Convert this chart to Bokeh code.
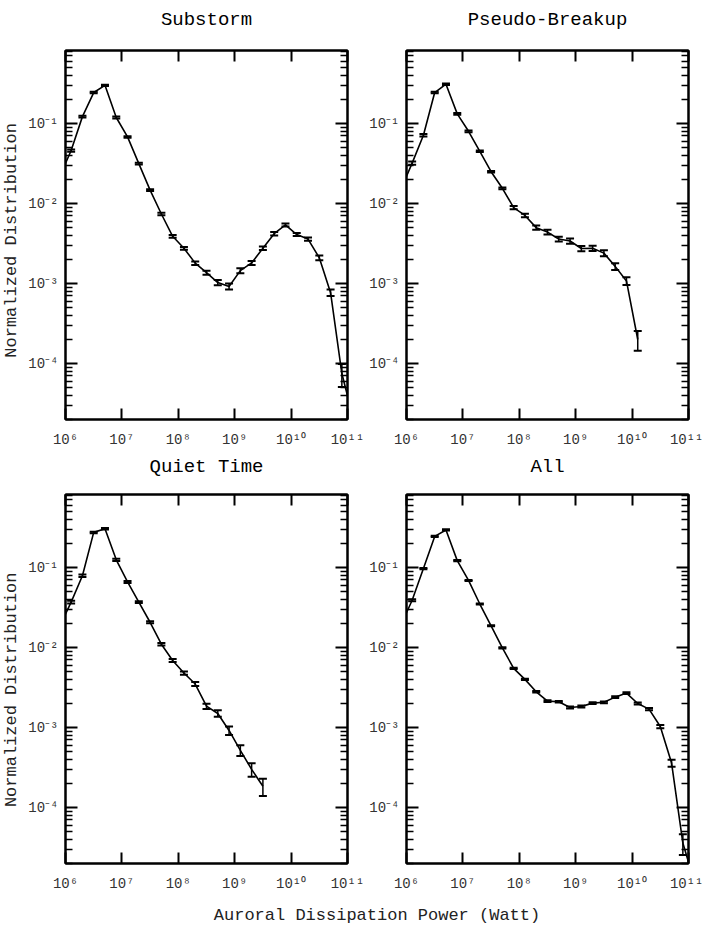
import math
from bokeh.plotting import figure
from bokeh.layouts import column, row
from bokeh.models import LogAxis, FixedTicker, CustomJSTickFormatter
from bokeh.core.properties import value
from bokeh.embed import file_html
from bokeh.resources import INLINE

FONT = "Liberation Mono"

# ---- axis definitions ----
x_ticks = [1e6, 1e7, 1e8, 1e9, 1e10, 1e11]
x_tick_labels = ["10⁶", "10⁷", "10⁸", "10⁹", "10¹⁰", "10¹¹"]
y_ticks = [1e-4, 1e-3, 1e-2, 1e-1]
y_tick_labels = ["10⁻⁴", "10⁻³", "10⁻²", "10⁻¹"]
x_limits = (1e6, 1e11)
y_limits = (2.0e-5, 0.818)

# ---- data: log10(power in Watt), normalized distribution, error ----
substorm_logp = [5.9, 6.1, 6.3, 6.5, 6.7, 6.9, 7.1, 7.3, 7.5, 7.7, 7.9, 8.1, 8.3, 8.5,
                 8.7, 8.9, 9.1, 9.3, 9.5, 9.7, 9.9, 10.1, 10.3, 10.5, 10.7, 10.9, 11.1]
substorm_dist = [0.022, 0.046, 0.122, 0.244, 0.30, 0.119, 0.068, 0.0316, 0.0147, 0.0074,
                 0.0039, 0.00276, 0.0018, 0.00137, 0.00103, 0.00092, 0.00145, 0.00181,
                 0.00276, 0.0042, 0.0054, 0.0041, 0.0036, 0.0021, 0.00077, 7.5e-5, 2.1e-5]
substorm_err = [0, 0.0015, 0.003, 0.005, 0.006, 0.003, 0.0015, 0.0008, 0.0004, 0.00025,
                0.00015, 0.00011, 0.00009, 0.00008, 0.00008, 0.00008, 0.0001, 0.0001,
                0.00014, 0.0002, 0.00022, 0.00018, 0.00017, 0.00015, 0.00007, 2.4e-5, 0]

pseudo_logp = [5.9, 6.1, 6.3, 6.5, 6.7, 6.9, 7.1, 7.3, 7.5, 7.7, 7.9, 8.1, 8.3, 8.5,
               8.7, 8.9, 9.1, 9.3, 9.5, 9.7, 9.9, 10.1]
pseudo_dist = [0.015, 0.032, 0.0715, 0.244, 0.31, 0.132, 0.080, 0.045, 0.025, 0.0155,
               0.0089, 0.0071, 0.0050, 0.0044, 0.0036, 0.0034, 0.00274, 0.00276, 0.0024,
               0.00164, 0.00108, 0.00020]
pseudo_err = [0, 0.0015, 0.0025, 0.005, 0.006, 0.003, 0.002, 0.001, 0.0006, 0.0004,
              0.0004, 0.00035, 0.0003, 0.0003, 0.00025, 0.00025, 0.0002, 0.0002, 0.0002,
              0.00016, 0.00012, 5.5e-5]

quiet_logp = [5.9, 6.1, 6.3, 6.5, 6.7, 6.9, 7.1, 7.3, 7.5, 7.7, 7.9, 8.1, 8.3, 8.5,
              8.7, 8.9, 9.1, 9.3, 9.5]
quiet_dist = [0.0186, 0.037, 0.079, 0.275, 0.305, 0.125, 0.066, 0.037, 0.0207, 0.011,
              0.0069, 0.0048, 0.0035, 0.00185, 0.0015, 0.00092, 0.00052, 0.00030, 0.000185]
quiet_err = [0, 0.0015, 0.003, 0.006, 0.007, 0.004, 0.002, 0.001, 0.0006, 0.0004,
             0.0003, 0.00022, 0.0002, 0.00014, 0.00014, 0.00011, 0.00008, 0.000058, 0.000045]

all_logp = [5.9, 6.1, 6.3, 6.5, 6.7, 6.9, 7.1, 7.3, 7.5, 7.7, 7.9, 8.1, 8.3, 8.5,
            8.7, 8.9, 9.1, 9.3, 9.5, 9.7, 9.9, 10.1, 10.3, 10.5, 10.7, 10.9, 11.1]
all_dist = [0.019, 0.039, 0.097, 0.245, 0.295, 0.122, 0.069, 0.035, 0.0187, 0.0099,
            0.0055, 0.0040, 0.0028, 0.00214, 0.0021, 0.00178, 0.00183, 0.00202, 0.00207,
            0.0024, 0.0027, 0.0020, 0.0017, 0.00103, 0.00036, 3.6e-5, 1.2e-5]
all_err = [0, 0.001, 0.002, 0.004, 0.005, 0.002, 0.001, 0.0006, 0.0003, 0.00015,
           0.0001, 0.00008, 0.00006, 0.00005, 0.00005, 0.00005, 0.00005, 0.00005, 0.00005,
           0.00006, 0.00007, 0.00006, 0.00006, 0.00005, 0.000037, 1.05e-5, 0]

titles = ["Substorm", "Pseudo-Breakup", "Quiet Time", "All"]
y_title = "Normalized Distribution"
x_title = "Auroral Dissipation Power (Watt)"

FMT_CODE = """
for (let i = 0; i < tv.length; i++) {
  if (Math.abs(Math.log10(tv[i]) - Math.log10(tick)) < 1e-6) { return tl[i]; }
}
return "";
"""

y_minor = [m * 10.0 ** k for k in range(-5, 0) for m in range(2, 10)]
y_minor = [t for t in y_minor if y_limits[0] <= t <= y_limits[1]]


def style_axis(ax, is_x, show_labels, labels_ticks):
    tv, tl = labels_ticks
    if is_x:
        ax.ticker = FixedTicker(ticks=tv)
        ax.minor_tick_line_color = None
        ax.major_tick_in = 11
    else:
        ax.ticker = FixedTicker(ticks=tv, minor_ticks=y_minor)
        ax.major_tick_in = 12
        ax.minor_tick_in = 7
        ax.minor_tick_out = 0
        ax.minor_tick_line_color = "black"
        ax.minor_tick_line_width = 1.5
    ax.major_tick_out = 0
    ax.major_tick_line_color = "black"
    ax.major_tick_line_width = 2
    ax.axis_line_color = "black"
    ax.axis_line_width = 2
    if show_labels:
        ax.formatter = CustomJSTickFormatter(args=dict(tv=tv, tl=tl), code=FMT_CODE)
        ax.major_label_text_font = FONT
        ax.major_label_text_font_size = "14px"
        ax.major_label_text_color = "#333333"
        ax.major_label_standoff = 12 if is_x else 7
    else:
        ax.formatter = CustomJSTickFormatter(code="return '';")
        ax.major_label_text_color = None
        ax.major_label_text_font_size = "1px"
        ax.major_label_standoff = 0


def blank(width, height):
    f = figure(width=width, height=height, x_range=(0, width), y_range=(0, height),
               title=None, output_backend="svg", toolbar_location=None, min_border=0,
               x_axis_location=None, y_axis_location=None,
               background_fill_color="white", border_fill_color="white")
    f.grid.grid_line_color = None
    f.outline_line_color = None
    return f


def title_fig(text, width, height, cx, center_from_top):
    f = blank(width, height)
    f.text(x=[cx], y=[height - center_from_top], text=[text], text_font=value(FONT),
           text_font_size="19px", text_align="center", text_baseline="middle",
           text_color="black")
    return f


def ylabel_fig(width, height, center_from_top):
    f = blank(width, height)
    f.text(x=[11], y=[height - center_from_top], text=[y_title], text_font=value(FONT),
           text_font_size="17px", text_align="center", text_baseline="middle",
           angle=math.pi / 2, text_color="#222222")
    return f


def make_panel(logp, dist, err, width, height, bl, br, bt, bb):
    p = figure(width=width, height=height, x_axis_type="log", y_axis_type="log",
               x_range=x_limits, y_range=y_limits, title=None, output_backend="svg",
               toolbar_location=None, min_border_left=bl, min_border_right=br,
               min_border_top=bt, min_border_bottom=bb,
               background_fill_color="white", border_fill_color="white")
    p.grid.grid_line_color = None
    p.outline_line_color = "black"
    p.outline_line_width = 2

    style_axis(p.xaxis[0], True, True, (x_ticks, x_tick_labels))
    style_axis(p.yaxis[0], False, True, (y_ticks, y_tick_labels))
    top = LogAxis()
    style_axis(top, True, False, (x_ticks, x_tick_labels))
    p.add_layout(top, "above")
    right = LogAxis()
    style_axis(right, False, False, (y_ticks, y_tick_labels))
    p.add_layout(right, "right")

    xs = [10.0 ** e for e in logp]
    p.line(xs, dist, line_color="black", line_width=1.6)

    bx = [x for x, e in zip(xs, err) if e > 0]
    lo = [d - e for d, e in zip(dist, err) if e > 0]
    hi = [d + e for d, e in zip(dist, err) if e > 0]
    p.segment(x0=bx, y0=lo, x1=bx, y1=hi, line_color="black", line_width=1.5)
    p.scatter(bx, lo, marker="dash", size=8, line_color="black", line_width=2)
    p.scatter(bx, hi, marker="dash", size=8, line_color="black", line_width=2)
    return p


YW = 24          # y-title column
LB = 41          # left border of left panels
FRAME_W = 282
LW = LB + FRAME_W + 17   # left panel figure (without y-title column)
RW = 703 - YW - LW       # right panel figure
RB = RW - FRAME_W - 15   # left border of right panels

# row 0: titles of top panels (y 0..40)
t1 = title_fig(titles[0], YW + LW, 40, YW + LB + FRAME_W / 2, 19)
t2 = title_fig(titles[1], RW, 40, RB + FRAME_W / 2, 19)
# row 1: top panels (y 40..452)
y1 = ylabel_fig(YW, 412, 212)
p1 = make_panel(substorm_logp, substorm_dist, substorm_err, LW, 412, LB, LW - LB - FRAME_W, 10, 33)
p2 = make_panel(pseudo_logp, pseudo_dist, pseudo_err, RW, 412, RB, 15, 10, 33)
# row 2: titles of bottom panels (y 452..486)
t3 = title_fig(titles[2], YW + LW, 34, YW + LB + FRAME_W / 2, 14.5)
t4 = title_fig(titles[3], RW, 34, RB + FRAME_W / 2, 14.5)
# row 3: bottom panels (y 486..896)
y2 = ylabel_fig(YW, 410, 217)
p3 = make_panel(quiet_logp, quiet_dist, quiet_err, LW, 410, LB, LW - LB - FRAME_W, 8, 33)
p4 = make_panel(all_logp, all_dist, all_err, RW, 410, RB, 15, 8, 33)
# row 4: shared x title (y 896..927)
p5 = blank(703, 31)
p5.text(x=[376.5], y=[12], text=[x_title], text_font=value(FONT),
        text_font_size="17px", text_align="center", text_baseline="middle",
        text_color="#222222")

layout = column(row(t1, t2), row(y1, p1, p2), row(t3, t4), row(y2, p3, p4), p5)

with open("out.html", "w") as f:
    f.write(file_html(layout, INLINE))
